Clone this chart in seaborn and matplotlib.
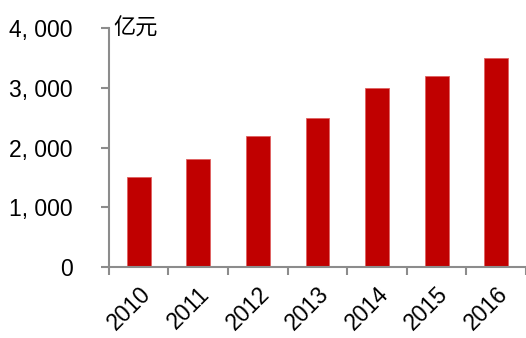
import matplotlib
matplotlib.use('Agg')
import matplotlib.pyplot as plt
import seaborn as sns
import pandas as pd
from matplotlib.ticker import FixedLocator

years = ['2010', '2011', '2012', '2013', '2014', '2015', '2016']
values = [1500, 1800, 2200, 2500, 3000, 3200, 3500]
y_ticks = [0, 1000, 2000, 3000, 4000]
y_labels = ['0', '1, 000', '2, 000', '3, 000', '4, 000']
unit = '亿元'

sns.set_style('white')
plt.rcParams['font.family'] = ['Liberation Sans', 'Noto Sans CJK SC', 'DejaVu Sans']
plt.rcParams['text.color'] = 'black'
plt.rcParams['xtick.labelcolor'] = 'black'
plt.rcParams['ytick.labelcolor'] = 'black'

df = pd.DataFrame({'year': years, 'value': values})

fig = plt.figure(figsize=(5.26, 3.38), dpi=100)
ax = fig.add_axes([0.207, 0.21, 0.793, 0.707])

sns.barplot(data=df, x='year', y='value', color='#C00000', saturation=1,
            width=0.4, edgecolor='#E06060', linewidth=0.6, ax=ax)

spine_c = '#8C8C8C'
for s in ['top', 'right']:
    ax.spines[s].set_visible(False)
for s in ['left', 'bottom']:
    ax.spines[s].set_color(spine_c)
    ax.spines[s].set_linewidth(1.5)

ax.set_xlim(-0.5, len(years) - 0.5)
ax.set_ylim(0, 4000)
ax.set_yticks(y_ticks)
ax.set_yticklabels(y_labels, fontsize=16.5)
ax.tick_params(axis='y', direction='out', length=6, width=1.5, color=spine_c, pad=20, left=True)

ax.set_xticks(range(len(years)))
ax.set_xticklabels(years, fontsize=16.5, rotation=45, ha='right', va='top', rotation_mode='anchor')
ax.tick_params(axis='x', which='major', length=0, pad=11)
ax.xaxis.set_minor_locator(FixedLocator([i - 0.5 for i in range(len(years) + 1)]))
ax.tick_params(axis='x', which='minor', direction='out', length=6, width=1.5, color=spine_c, bottom=True)

ax.set_xlabel('')
ax.set_ylabel('')
ax.text(0.01, 1.0, unit, transform=ax.transAxes, fontsize=16,
        family=['Noto Sans CJK SC', 'DejaVu Sans'], va='center', ha='left')

fig.savefig('out.png', dpi=100)
